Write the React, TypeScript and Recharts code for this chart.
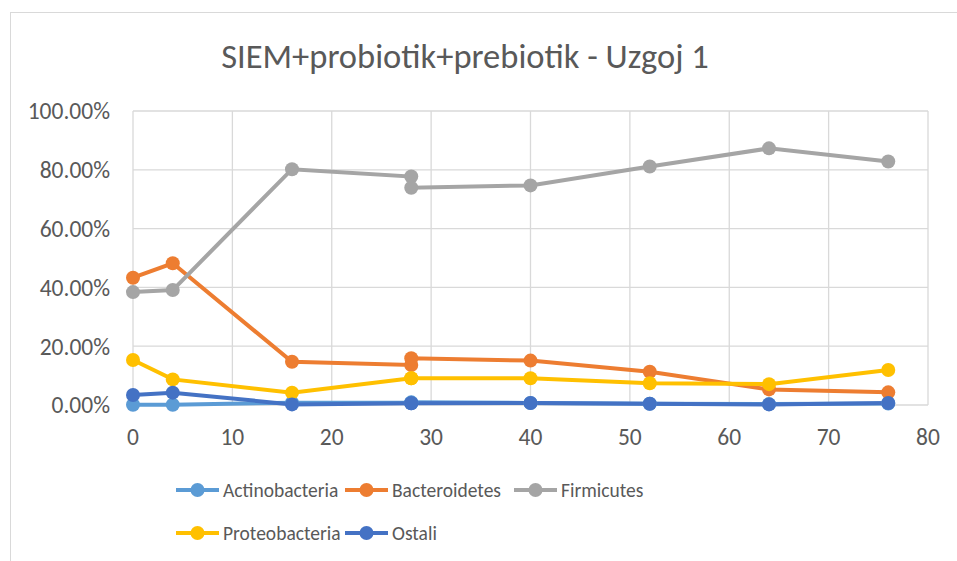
import React from "react"
import { LineChart, Line, XAxis, YAxis, CartesianGrid } from "recharts"

const days = [0, 4, 16, 28, 28, 40, 52, 64, 76]
const actinobacteria = [0.001, 0.001, 0.008, 0.008, 0.009, 0.007, 0.004, 0.003, 0.005]
const bacteroidetes = [0.433, 0.482, 0.147, 0.136, 0.159, 0.151, 0.113, 0.053, 0.043]
const firmicutes = [0.384, 0.391, 0.802, 0.777, 0.739, 0.747, 0.811, 0.873, 0.828]
const proteobacteria = [0.153, 0.087, 0.042, 0.091, 0.091, 0.091, 0.074, 0.071, 0.119]
const ostali = [0.034, 0.042, 0.002, 0.006, 0.006, 0.007, 0.004, 0.002, 0.007]

const xTicks = [0, 10, 20, 30, 40, 50, 60, 70, 80]
const yTicks = [0, 0.2, 0.4, 0.6, 0.8, 1]

const series = [
  { key: "Actinobacteria", values: actinobacteria, color: "#5B9BD5" },
  { key: "Bacteroidetes", values: bacteroidetes, color: "#ED7D31" },
  { key: "Firmicutes", values: firmicutes, color: "#A5A5A5" },
  { key: "Proteobacteria", values: proteobacteria, color: "#FFC000" },
  { key: "Ostali", values: ostali, color: "#4472C4" },
]

const data = days.map((day, i) => {
  const row: any = { day }
  series.forEach((s) => (row[s.key] = s.values[i]))
  return row
})

const FONT = "Carlito, Calibri, Lato, sans-serif"
const TEXT = "#595959"

function LegendItem({ name, color }: { name: string; color: string }) {
  return (
    <div style={{ display: "flex", alignItems: "center", width: 169 }}>
      <svg width={47} height={16}>
        <line x1={0} y1={8} x2={43} y2={8} stroke={color} strokeWidth={4} />
        <circle cx={21.5} cy={8} r={7} fill={color} />
      </svg>
      <span style={{ fontSize: 19.5, color: TEXT }}>{name}</span>
    </div>
  )
}

export default function App() {
  return (
    <div
      style={{
        position: "absolute",
        left: 0,
        top: 0,
        width: 957,
        height: 561,
        overflow: "hidden",
        background: "#fff",
        fontFamily: FONT,
      }}
    >
      <div
        style={{
          position: "absolute",
          left: 10,
          top: 12,
          width: 1000,
          height: 600,
          border: "1px solid #d9d9d9",
        }}
      />
      <div
        style={{
          position: "absolute",
          left: 0,
          width: 930,
          top: 35,
          textAlign: "center",
          fontSize: 34.5,
          color: TEXT,
        }}
      >
        SIEM+probiotik+prebiotik - Uzgoj 1
      </div>
      <div style={{ position: "absolute", left: 0, top: 0 }}>
        <LineChart width={957} height={561} data={data} margin={{ top: 111, right: 29, bottom: 126, left: 0 }}>
          <CartesianGrid stroke="#d9d9d9" strokeWidth={1.3} />
          <XAxis
            dataKey="day"
            type="number"
            domain={[0, 80]}
            ticks={xTicks}
            height={30}
            axisLine={false}
            tickLine={false}
            tickSize={0}
            tickMargin={23}
            tick={{ fill: TEXT, fontSize: 23.5, fontFamily: FONT }}
            interval={0}
          />
          <YAxis
            type="number"
            domain={[0, 1]}
            ticks={yTicks}
            width={133}
            axisLine={false}
            tickLine={false}
            tickSize={0}
            tickMargin={23}
            tickFormatter={(v: number) => (v * 100).toFixed(2) + "%"}
            tick={{ fill: TEXT, fontSize: 23.5, fontFamily: FONT }}
            interval={0}
          />
          {series.map((s) => (
            <Line
              key={s.key}
              dataKey={s.key}
              stroke={s.color}
              strokeWidth={4}
              dot={{ r: 7, fill: s.color, stroke: s.color, strokeWidth: 0 }}
              isAnimationActive={false}
              type="linear"
            />
          ))}
        </LineChart>
      </div>
      <div style={{ position: "absolute", left: 176, top: 478 }}>
        <div style={{ display: "flex" }}>
          {series.slice(0, 3).map((s) => (
            <LegendItem key={s.key} name={s.key} color={s.color} />
          ))}
        </div>
        <div style={{ display: "flex", marginTop: 19 }}>
          {series.slice(3).map((s) => (
            <LegendItem key={s.key} name={s.key} color={s.color} />
          ))}
        </div>
      </div>
    </div>
  )
}
